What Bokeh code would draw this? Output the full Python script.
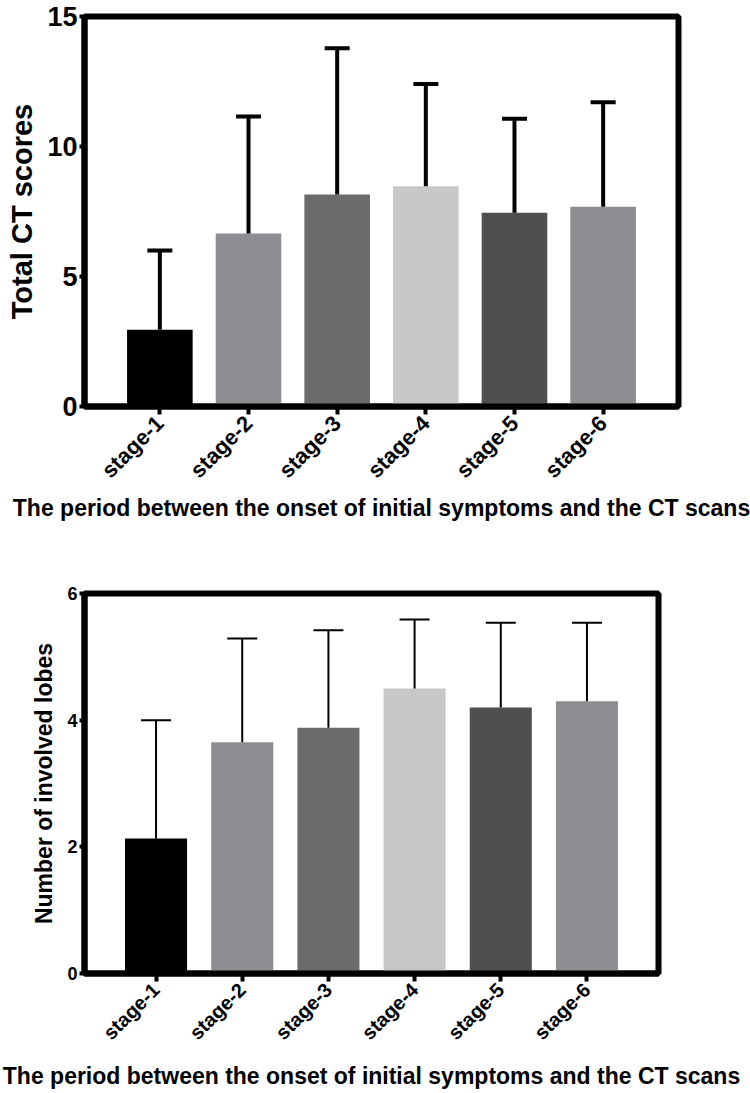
from math import pi
from bokeh.plotting import figure
from bokeh.models import FactorRange, Range1d, ColumnDataSource, Whisker, TeeHead, FixedTicker
from bokeh.embed import file_html
from bokeh.resources import INLINE

stages = ["stage-1", "stage-2", "stage-3", "stage-4", "stage-5", "stage-6"]
bar_colors = ["#000000", "#8e8d92", "#6b6b6b", "#c8c8c8", "#4f4f4f", "#8e8d92"]

ct_mean = [2.95, 6.65, 8.15, 8.47, 7.45, 7.68]
ct_sd = [3.05, 4.50, 5.63, 3.93, 3.62, 4.02]

lobes_mean = [2.13, 3.65, 3.88, 4.50, 4.20, 4.30]
lobes_sd = [1.87, 1.64, 1.54, 1.09, 1.34, 1.24]

x_title = "The period between the onset of initial symptoms and the CT scans"
FONT = "Liberation Sans"


def make_chart(mean, sd, ylabel, ymax, yticks, width, height, bl, br, bt, bb,
               pad, bar_w, err_w, cap, tick_fs, ylab_fs, xtick_fs, xlab_fs,
               ylab_standoff, xlab_standoff):
    src = ColumnDataSource(dict(
        x=stages, mean=mean, upper=[m + s for m, s in zip(mean, sd)], color=bar_colors))
    p = figure(width=width, height=height, output_backend="svg", toolbar_location=None,
               x_range=FactorRange(factors=stages, range_padding=pad, range_padding_units="absolute"),
               y_range=Range1d(0, ymax),
               min_border_left=bl, min_border_right=br, min_border_top=bt, min_border_bottom=bb)
    p.vbar(x="x", top="mean", width=bar_w, color="color", line_color=None, source=src)
    w = Whisker(base="x", lower="mean", upper="upper", source=src, dimension="height",
                line_color="black", line_width=err_w,
                upper_head=TeeHead(size=cap, line_width=err_w, line_color="black"),
                lower_head=None, level="overlay")
    p.add_layout(w)
    p.xgrid.visible = False
    p.ygrid.visible = False
    p.outline_line_color = "black"
    p.outline_line_width = 6
    p.outline_line_alpha = 1.0
    for ax in (p.xaxis, p.yaxis):
        ax.axis_line_width = 6
        ax.axis_line_color = "black"
        ax.major_tick_line_width = 4
        ax.major_tick_line_color = "black"
        ax.major_tick_in = 0
        ax.minor_tick_line_color = None
        ax.major_label_text_font = FONT
        ax.major_label_text_font_style = "bold"
        ax.major_label_text_color = "black"
        ax.axis_label_text_font = FONT
        ax.axis_label_text_font_style = "bold"
        ax.axis_label_text_color = "black"
    p.yaxis.ticker = FixedTicker(ticks=yticks)
    p.yaxis.major_tick_out = 5
    p.yaxis.major_label_standoff = 2
    p.yaxis.major_label_text_font_size = tick_fs
    p.yaxis.axis_label = ylabel
    p.yaxis.axis_label_text_font_size = ylab_fs
    p.yaxis.axis_label_standoff = ylab_standoff
    p.xaxis.major_tick_out = 8
    p.xaxis.major_label_orientation = pi / 4
    p.xaxis.major_label_standoff = 5
    p.xaxis.major_label_text_font_size = xtick_fs
    p.xaxis.axis_label = x_title
    p.xaxis.axis_label_text_font_size = xlab_fs
    p.xaxis.axis_label_standoff = xlab_standoff
    return p


p1 = make_chart(ct_mean, ct_sd, "Total CT scores", 15, [0, 5, 10, 15],
                width=750, height=530, bl=84, br=72, bt=16, bb=124,
                pad=0.35, bar_w=0.74, err_w=4, cap=25, tick_fs="27px", ylab_fs="29px",
                xtick_fs="22px", xlab_fs="23px", ylab_standoff=6, xlab_standoff=0)

p2 = make_chart(lobes_mean, lobes_sd, "Number of involved lobes", 6, [0, 2, 4, 6],
                width=750, height=563, bl=84, br=92, bt=63, bb=120,
                pad=0.33, bar_w=0.72, err_w=2, cap=30, tick_fs="18px", ylab_fs="23px",
                xtick_fs="20px", xlab_fs="23px", ylab_standoff=7, xlab_standoff=8)

open("out.html", "w").write(file_html([p1, p2], INLINE))
